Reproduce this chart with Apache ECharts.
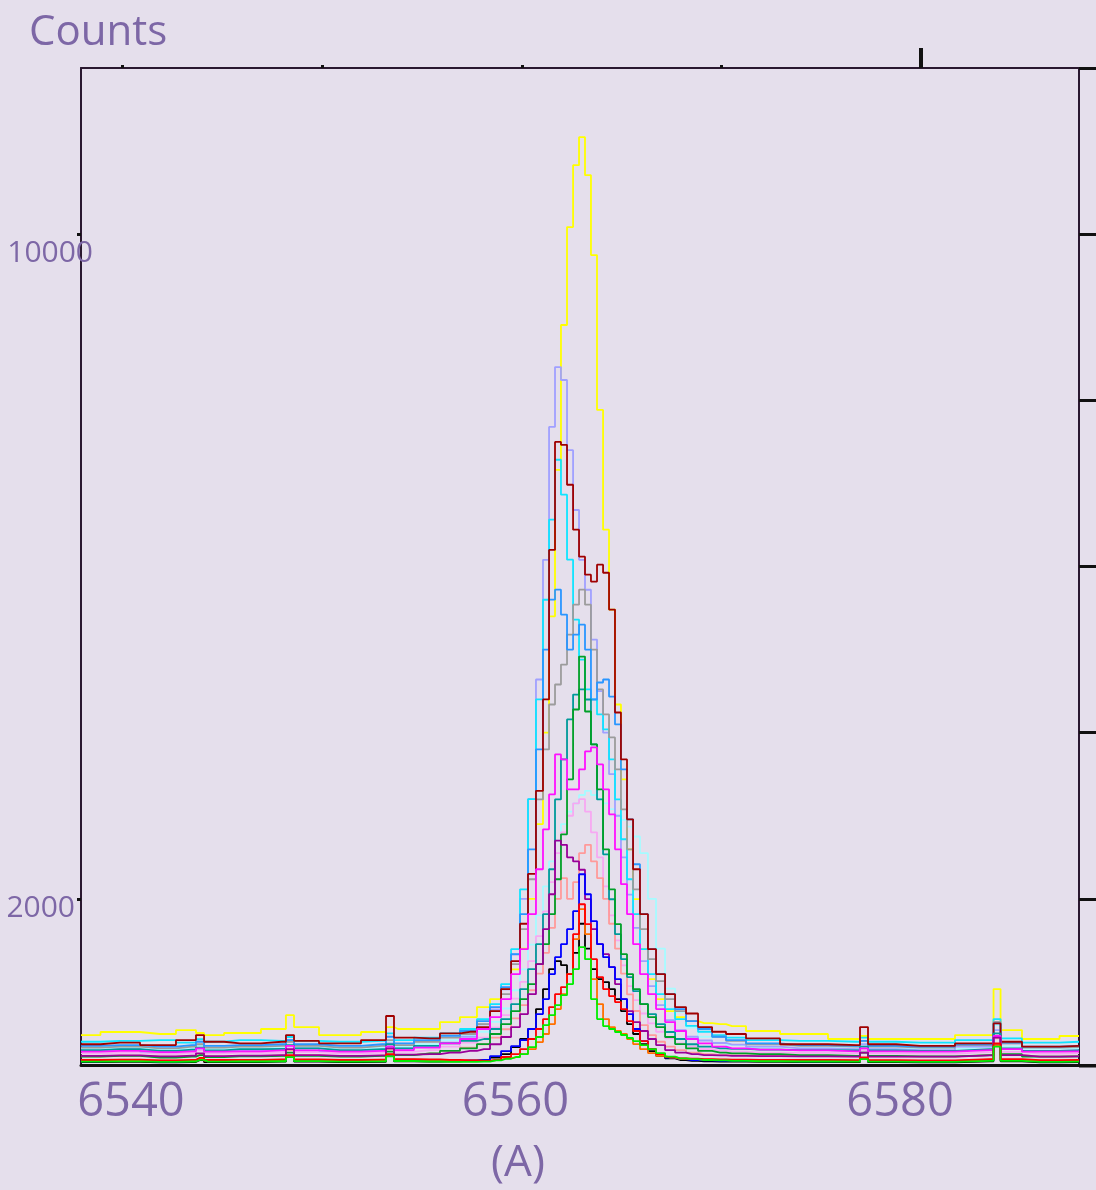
<!DOCTYPE html>
<html>
<head>
<meta charset="utf-8">
<script src="https://cdn.jsdelivr.net/npm/echarts@6/dist/echarts.min.js"></script>
<style>
  html, body { margin: 0; padding: 0; background: #e5dfec; }
  #chart { width: 1096px; height: 1190px; }
</style>
</head>
<body>
<div id="chart"></div>
<script>
// Wavelength sampling (Angstrom), shared by all spectra
const wavelength = [6537.40, 6539.43, 6541.51, 6543.17, 6543.59, 6544.01, 6545.67, 6547.85, 6548.27, 6548.69,
  6550.87, 6553.06, 6553.47, 6553.89, 6555.55, 6556.59, 6557.63, 6558.36, 6558.99, 6559.51,
  6560.03, 6560.44, 6560.86, 6561.27, 6561.59, 6561.90, 6562.21, 6562.52, 6562.84, 6563.15,
  6563.46, 6563.77, 6564.08, 6564.40, 6564.71, 6565.02, 6565.33, 6565.64, 6565.96, 6566.27,
  6566.68, 6567.10, 6567.52, 6568.04, 6568.56, 6569.18, 6569.81, 6570.64, 6571.26, 6572.72,
  6574.80, 6577.71, 6578.13, 6578.54, 6581.04, 6584.68, 6585.05, 6585.41, 6587.28, 6589.31];

// Counts per spectrum
const yellowCounts = [360, 397, 373, 420, 385, 360, 385, 433, 600, 457, 360, 397, 457, 433, 433, 517, 577,
  697, 793, 914, 1150, 1400, 2000, 2900, 4000, 5400, 7164, 8907, 10085, 10830, 11167, 10710, 9748,
  7885, 6443, 5481, 4339, 3438, 2596, 1996, 1394, 1034, 793, 649, 577, 529, 505, 493, 469,
  409, 373, 313, 349, 313, 313, 360, 914, 420, 313, 349];
const lightCyanCounts = [195, 205, 190, 200, 230, 195, 200, 210, 280, 212, 198, 205, 290, 220, 250, 300, 350,
  400, 520, 680, 900, 1150, 1450, 1800, 2150, 2450, 2700, 2900, 3050, 3150, 3250, 3300, 3250,
  3200, 3150, 3080, 3000, 2950, 2870, 2750, 2550, 2000, 1400, 920, 640, 450, 340, 270, 240,
  215, 205, 198, 250, 198, 195, 215, 480, 225, 195, 200];
const plumCounts = [140, 150, 135, 145, 175, 140, 145, 150, 220, 155, 140, 148, 230, 160, 180, 220, 270,
  330, 450, 600, 800, 1000, 1250, 1550, 1850, 2200, 2550, 2800, 3000, 3150, 3200, 3050, 2800,
  2500, 2150, 1800, 1500, 1200, 950, 780, 620, 500, 400, 320, 260, 220, 190, 170, 160,
  150, 145, 140, 180, 140, 138, 155, 360, 158, 138, 142];
const salmonCounts = [105, 112, 100, 108, 135, 104, 108, 115, 180, 118, 105, 112, 190, 122, 140, 170, 210,
  250, 330, 430, 560, 720, 900, 1100, 1350, 1650, 2000, 2250, 2000, 2200, 2550, 2650, 2450,
  2250, 2000, 1700, 1400, 1100, 850, 650, 480, 360, 280, 220, 180, 150, 130, 120, 115,
  112, 108, 104, 145, 104, 102, 118, 320, 120, 102, 106];
const lavenderCounts = [170, 190, 160, 175, 200, 165, 180, 190, 300, 200, 170, 185, 260, 200, 230, 270, 340,
  490, 670, 910, 1330, 2000, 3200, 4640, 6080, 7680, 8400, 8245, 7400, 6680, 6080, 5720, 5120,
  4500, 4000, 3500, 3000, 2500, 2050, 1650, 1250, 950, 720, 540, 420, 340, 295, 265, 245,
  220, 200, 190, 250, 190, 180, 220, 420, 260, 170, 180];
const cyanCounts = [280, 290, 300, 270, 310, 280, 300, 290, 337, 290, 280, 290, 380, 300, 330, 380, 433,
  553, 733, 974, 1394, 2115, 3200, 4400, 5600, 6563, 7285, 6864, 6082, 5361, 4880, 4520, 4400,
  4219, 4039, 3678, 3197, 2717, 2236, 1815, 1394, 1094, 853, 673, 553, 470, 400, 360, 330,
  300, 290, 280, 330, 280, 270, 300, 553, 320, 270, 280];
const grayCounts = [210, 220, 200, 220, 250, 210, 220, 230, 280, 230, 210, 230, 300, 240, 280, 330, 373,
  493, 649, 853, 1214, 1635, 2236, 3197, 3798, 4339, 4580, 4820, 5181, 5541, 5721, 5541, 5000,
  4520, 4219, 3943, 3558, 3077, 2596, 2115, 1635, 1274, 1010, 793, 649, 529, 433, 340, 290,
  250, 230, 220, 290, 220, 210, 240, 520, 260, 210, 215];
const azureCounts = [230, 240, 220, 240, 280, 230, 240, 250, 300, 250, 230, 250, 340, 260, 300, 350, 409,
  529, 697, 938, 1334, 1815, 2596, 3798, 5000, 5601, 5721, 5421, 5000, 5181, 5300, 5000, 4399,
  4604, 4640, 4435, 4099, 3558, 2957, 2416, 1815, 1394, 1094, 853, 673, 529, 433, 340, 300,
  260, 240, 230, 290, 230, 220, 250, 500, 270, 220, 230];
const darkRedCounts = [250, 270, 240, 300, 360, 280, 260, 280, 360, 290, 260, 300, 590, 330, 320, 380, 400,
  457, 649, 914, 1250, 1700, 2300, 3300, 4400, 6200, 7500, 7465, 6984, 6443, 6118, 5902, 5818,
  6022, 5925, 5481, 4243, 3678, 2957, 2356, 1815, 1394, 1094, 853, 697, 620, 457, 400, 373,
  320, 250, 240, 457, 250, 230, 260, 500, 280, 220, 230];
const tealCounts = [180, 190, 170, 185, 210, 175, 190, 195, 240, 200, 180, 190, 250, 200, 230, 260, 290,
  313, 433, 553, 733, 914, 1154, 1454, 1815, 2356, 3197, 3678, 4159, 4459, 4520, 4399, 3858,
  3197, 2536, 1995, 1575, 1274, 1058, 889, 733, 613, 493, 397, 313, 250, 220, 200, 195,
  185, 180, 175, 220, 175, 170, 190, 380, 200, 170, 175];
const greenCounts = [100, 110, 90, 100, 120, 95, 105, 110, 150, 110, 100, 110, 160, 120, 140, 170, 200,
  252, 373, 493, 649, 793, 974, 1214, 1454, 1815, 2236, 2777, 3438, 4279, 4916, 4255, 3858,
  3318, 2596, 2115, 1695, 1334, 1094, 914, 733, 577, 457, 337, 252, 200, 170, 150, 140,
  130, 120, 110, 150, 110, 105, 120, 250, 130, 100, 105];
const magentaCounts = [160, 170, 155, 165, 200, 160, 165, 175, 230, 175, 160, 170, 220, 180, 210, 260, 313,
  433, 577, 793, 1094, 1394, 1815, 2356, 2837, 3257, 3738, 3678, 3318, 3318, 3558, 3774, 3822,
  3618, 3318, 3017, 2596, 2176, 1815, 1454, 1094, 853, 673, 517, 409, 313, 260, 220, 200,
  185, 175, 165, 200, 165, 160, 180, 349, 190, 160, 165];
const purpleCounts = [110, 115, 105, 112, 140, 108, 112, 118, 190, 120, 110, 115, 200, 125, 130, 150, 170,
  190, 250, 337, 457, 613, 853, 1214, 1635, 2055, 2700, 2650, 2500, 2450, 2350, 1996, 1635,
  1454, 1334, 1178, 974, 793, 649, 517, 409, 313, 240, 180, 150, 130, 120, 115, 110,
  108, 105, 102, 150, 102, 100, 115, 330, 118, 100, 105];
const blackCounts = [35, 38, 32, 36, 60, 34, 36, 40, 100, 42, 35, 38, 115, 45, 42, 45, 52,
  60, 90, 132, 216, 313, 433, 673, 914, 1154, 1250, 1202, 1094, 1350, 1700, 1400, 1154,
  1034, 998, 914, 793, 649, 493, 373, 252, 168, 110, 80, 60, 50, 45, 40, 40,
  38, 36, 34, 70, 34, 32, 45, 230, 45, 33, 35];
const blueCounts = [45, 50, 42, 48, 70, 46, 50, 52, 110, 55, 48, 52, 120, 58, 55, 50, 55,
  60, 108, 168, 228, 300, 433, 613, 793, 1094, 1298, 1454, 1635, 1851, 2296, 2055, 1731,
  1454, 1298, 1178, 1034, 793, 613, 433, 288, 192, 132, 90, 70, 60, 55, 50, 50,
  50, 45, 48, 80, 46, 45, 60, 250, 60, 45, 48];
const orangeCounts = [55, 58, 52, 56, 80, 54, 56, 60, 110, 62, 55, 58, 125, 64, 60, 55, 52,
  50, 65, 80, 96, 132, 192, 276, 373, 493, 673, 853, 1094, 1515, 1875, 1575, 1034,
  733, 553, 457, 409, 373, 313, 252, 192, 144, 110, 90, 75, 70, 65, 62, 60,
  58, 55, 52, 85, 52, 50, 65, 240, 62, 52, 55];
const redCounts = [60, 65, 55, 62, 85, 60, 62, 66, 120, 68, 60, 65, 130, 70, 66, 62, 55,
  50, 60, 96, 132, 192, 313, 433, 553, 697, 853, 938, 1094, 1575, 1935, 1695, 1274,
  1058, 914, 829, 757, 673, 529, 409, 288, 192, 130, 95, 80, 75, 70, 68, 65,
  62, 60, 58, 90, 58, 56, 70, 260, 70, 58, 60];
const limeCounts = [40, 44, 38, 42, 62, 40, 42, 45, 95, 46, 40, 43, 105, 48, 42, 38, 38,
  40, 55, 75, 96, 132, 216, 337, 481, 601, 721, 841, 974, 1154, 1418, 1274, 793,
  553, 469, 433, 397, 361, 325, 288, 240, 192, 144, 100, 80, 70, 60, 55, 50,
  45, 42, 40, 70, 40, 38, 50, 220, 50, 38, 40];

// Axis ticks and labels
const xLabelValues = [6540, 6560, 6580];
const xTopTicks = [6539.53, 6549.94, 6560.34, 6570.69];
const xTopMajorTick = [6581.09];
const yLabelValues = [2000, 10000];
const xRange = [6537.40, 6589.31];
const yRange = [0, 12000];

// Drawing order: first listed is drawn underneath
const spectra = [
  { name: 'yellow', color: '#ffff00', values: yellowCounts },
  { name: 'lightcyan', color: '#a6fbff', values: lightCyanCounts },
  { name: 'plum', color: '#f7a8f2', values: plumCounts },
  { name: 'salmon', color: '#ff9a9a', values: salmonCounts },
  { name: 'lavender', color: '#a0a0ff', values: lavenderCounts },
  { name: 'cyan', color: '#10e4ff', values: cyanCounts },
  { name: 'gray', color: '#9c9c9c', values: grayCounts },
  { name: 'azure', color: '#2a96ff', values: azureCounts },
  { name: 'darkred', color: '#a00000', values: darkRedCounts },
  { name: 'teal', color: '#009a9a', values: tealCounts },
  { name: 'green', color: '#00a028', values: greenCounts },
  { name: 'magenta', color: '#ff10ff', values: magentaCounts },
  { name: 'purple', color: '#990099', values: purpleCounts },
  { name: 'black', color: '#000000', values: blackCounts },
  { name: 'blue', color: '#0000ff', values: blueCounts },
  { name: 'orange', color: '#ff7000', values: orangeCounts },
  { name: 'red', color: '#ff0000', values: redCounts },
  { name: 'lime', color: '#00ee00', values: limeCounts }
];

const TEXT = '#7d67a6';
const AXIS = '#2a1830';
const FONT = '"Open Sans", "Noto Sans", sans-serif';

const chart = echarts.init(document.getElementById('chart'), null, { renderer: 'canvas' });

const gridLeft = 81, gridRight = 17, gridTop = 68, gridBottom = 124;
const W = 1096, H = 1190;

const option = {
  backgroundColor: '#e5dfec',
  animation: false,
  title: {
    text: 'Counts', left: 24, top: 7,
    textStyle: { fontFamily: FONT, fontSize: 42, fontWeight: 'normal', color: TEXT }
  },
  grid: { left: gridLeft, right: gridRight, top: gridTop, bottom: gridBottom },
  xAxis: [
    {
      type: 'value', position: 'bottom', min: xRange[0], max: xRange[1],
      axisLine: { show: true, onZero: false, lineStyle: { color: '#111111', width: 3 } },
      axisTick: { show: false },
      splitLine: { show: false },
      axisLabel: {
        customValues: xLabelValues, margin: 14,
        fontFamily: FONT, fontSize: 47, color: TEXT,
        formatter: v => String(Math.round(v))
      },
      name: '(A)', nameLocation: 'middle', nameGap: 76,
      nameTextStyle: { fontFamily: FONT, fontSize: 44, color: TEXT, padding: [0, 124, 0, 0] }
    },
    {
      type: 'value', position: 'top', min: xRange[0], max: xRange[1],
      axisLine: { show: true, onZero: false, lineStyle: { color: AXIS, width: 2 } },
      axisTick: { show: true, length: 3, customValues: xTopTicks, lineStyle: { color: '#111111', width: 3 } },
      axisLabel: { show: false },
      splitLine: { show: false }
    },
    {
      type: 'value', position: 'top', min: xRange[0], max: xRange[1],
      axisLine: { show: true, onZero: false, lineStyle: { color: 'rgba(0,0,0,0)', width: 0 } },
      axisTick: { show: true, length: 20, customValues: xTopMajorTick, lineStyle: { color: '#111111', width: 4 } },
      axisLabel: { show: false },
      splitLine: { show: false }
    }
  ],
  yAxis: [
    {
      type: 'value', position: 'left', min: yRange[0], max: yRange[1],
      axisLine: { show: true, onZero: false, lineStyle: { color: AXIS, width: 2 } },
      axisTick: { show: true, length: 4, customValues: yLabelValues, lineStyle: { color: '#111111', width: 3 } },
      splitLine: { show: false },
      axisLabel: {
        customValues: yLabelValues, margin: -12,
        fontFamily: FONT, fontSize: 30, color: TEXT,
        formatter: v => (v >= 10000 ? '{hi|' + v + '}' : '{lo|' + v + '}'),
        rich: {
          hi: { fontFamily: FONT, fontSize: 30, color: TEXT, padding: [38, 0, 0, 0] },
          lo: { fontFamily: FONT, fontSize: 30, color: TEXT, padding: [20, 18, 0, 0] }
        }
      }
    },
    {
      type: 'value', position: 'right', min: yRange[0], max: yRange[1], interval: 2000,
      axisLine: { show: true, onZero: false, lineStyle: { color: AXIS, width: 2 } },
      axisTick: { show: true, length: 17, lineStyle: { color: '#111111', width: 3 } },
      axisLabel: { show: false },
      splitLine: { show: false }
    }
  ],
  graphic: [
    { type: 'line', silent: true, shape: { x1: W - gridRight, y1: gridTop, x2: W, y2: gridTop },
      style: { stroke: AXIS, lineWidth: 2 } },
    { type: 'line', silent: true, shape: { x1: W - gridRight, y1: H - gridBottom, x2: W, y2: H - gridBottom },
      style: { stroke: '#111111', lineWidth: 3 } }
  ],
  series: spectra.map(s => ({
    name: s.name,
    type: 'line',
    step: 'middle',
    showSymbol: false,
    symbol: 'none',
    clip: true,
    data: wavelength.map((w, i) => [w, s.values[i]]),
    lineStyle: { color: s.color, width: 1.8 },
    itemStyle: { color: s.color },
    emphasis: { disabled: true }
  }))
};

chart.setOption(option);
</script>
</body>
</html>
